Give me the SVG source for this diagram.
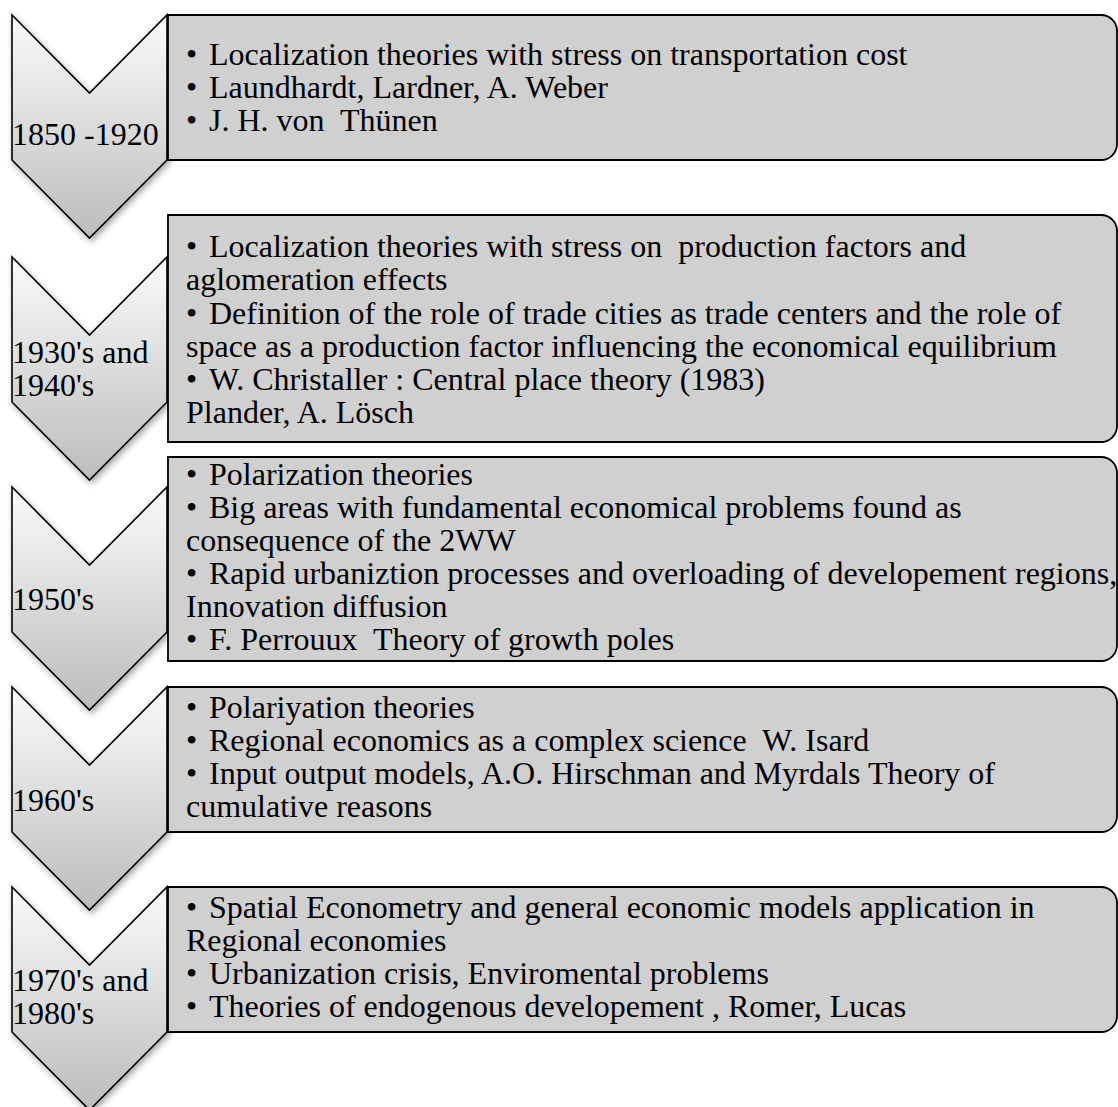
<svg xmlns="http://www.w3.org/2000/svg" width="1118" height="1107" viewBox="0 0 1118 1107">
<defs>
<linearGradient id="chev" x1="0" y1="0" x2="0" y2="1">
<stop offset="0" stop-color="#fbfbfb"/>
<stop offset="1" stop-color="#bcbcbc"/>
</linearGradient>
<filter id="sh" x="-20%" y="-20%" width="150%" height="150%">
<feDropShadow dx="2" dy="3" stdDeviation="3" flood-color="#000" flood-opacity="0.35"/>
</filter>
</defs>
<style>
.chev{fill:url(#chev);stroke:#000;stroke-width:1.6;stroke-linejoin:miter;filter:url(#sh)}
.box{fill:#d0d0d0;stroke:#000;stroke-width:1.8}
text{font-family:"Liberation Serif","Times New Roman",serif;font-size:32px;fill:#000}
</style>
<rect width="1118" height="1107" fill="#fff"/>

<g id="node1">
<path class="chev" d="M12,15 L89.5,93 L167,15 L167,160 L89.5,238 L12,160 Z"/>
<path class="box" d="M168,15 H1101 A16,16 0 0 1 1117,31 V144 A16,16 0 0 1 1101,160 H168 Z"/>
<text><tspan x="12" y="145">1850 -1920</tspan></text>
<text><tspan x="186" y="65">•</tspan><tspan x="209">Localization theories with stress on transportation cost</tspan>
<tspan x="186" y="98">•</tspan><tspan x="209">Laundhardt, Lardner, A. Weber</tspan>
<tspan x="186" y="131">•</tspan><tspan x="209">J. H. von&#160; Thünen</tspan></text>
</g>

<g id="node2">
<path class="chev" d="M12,257 L89.5,335 L167,257 L167,402 L89.5,480 L12,402 Z"/>
<path class="box" d="M168,215 H1101 A16,16 0 0 1 1117,231 V426 A16,16 0 0 1 1101,442 H168 Z"/>
<text><tspan x="12" y="363">1930's and</tspan><tspan x="12" y="396">1940's</tspan></text>
<text><tspan x="186" y="257">•</tspan><tspan x="209">Localization theories with stress on&#160; production factors and</tspan>
<tspan x="186" y="290">aglomeration effects</tspan>
<tspan x="186" y="324">•</tspan><tspan x="209">Definition of the role of trade cities as trade centers and the role of</tspan>
<tspan x="186" y="357">space as a production factor influencing the economical equilibrium</tspan>
<tspan x="186" y="390">•</tspan><tspan x="209">W. Christaller : Central place theory (1983)</tspan>
<tspan x="186" y="423">Plander, A. Lösch</tspan></text>
</g>

<g id="node3">
<path class="chev" d="M12,487 L89.5,565 L167,487 L167,632 L89.5,710 L12,632 Z"/>
<path class="box" d="M168,457 H1101 A16,16 0 0 1 1117,473 V645 A16,16 0 0 1 1101,661 H168 Z"/>
<text><tspan x="12" y="610">1950's</tspan></text>
<text><tspan x="186" y="485">•</tspan><tspan x="209">Polarization theories</tspan>
<tspan x="186" y="518">•</tspan><tspan x="209">Big areas with fundamental economical problems found as</tspan>
<tspan x="186" y="551">consequence of the 2WW</tspan>
<tspan x="186" y="584">•</tspan><tspan x="209">Rapid urbaniztion processes and overloading of developement regions,</tspan>
<tspan x="186" y="617">Innovation diffusion</tspan>
<tspan x="186" y="650">•</tspan><tspan x="209">F. Perrouux&#160; Theory of growth poles</tspan></text>
</g>

<g id="node4">
<path class="chev" d="M12,687 L89.5,765 L167,687 L167,832 L89.5,910 L12,832 Z"/>
<path class="box" d="M168,687 H1101 A16,16 0 0 1 1117,703 V816 A16,16 0 0 1 1101,832 H168 Z"/>
<text><tspan x="12" y="811">1960's</tspan></text>
<text><tspan x="186" y="718">•</tspan><tspan x="209">Polariyation theories</tspan>
<tspan x="186" y="751">•</tspan><tspan x="209">Regional economics as a complex science&#160; W. Isard</tspan>
<tspan x="186" y="784">•</tspan><tspan x="209">Input output models, A.O. Hirschman and Myrdals Theory of</tspan>
<tspan x="186" y="817">cumulative reasons</tspan></text>
</g>

<g id="node5">
<path class="chev" d="M12,887 L89.5,965 L167,887 L167,1032 L89.5,1110 L12,1032 Z"/>
<path class="box" d="M168,887 H1101 A16,16 0 0 1 1117,903 V1016 A16,16 0 0 1 1101,1032 H168 Z"/>
<text><tspan x="12" y="991">1970's and</tspan><tspan x="12" y="1024">1980's</tspan></text>
<text><tspan x="186" y="918">•</tspan><tspan x="209">Spatial Econometry and general economic models application in</tspan>
<tspan x="186" y="951">Regional economies</tspan>
<tspan x="186" y="984">•</tspan><tspan x="209">Urbanization crisis, Enviromental problems</tspan>
<tspan x="186" y="1017">•</tspan><tspan x="209">Theories of endogenous developement , Romer, Lucas</tspan></text>
</g>
</svg>
